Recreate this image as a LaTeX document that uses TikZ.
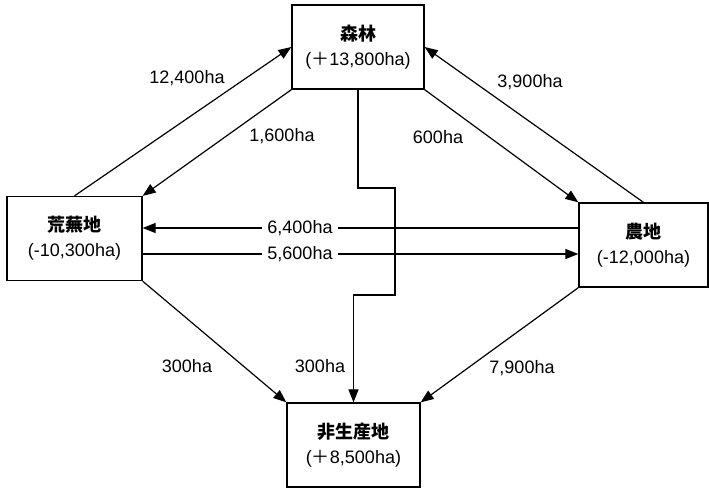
\documentclass[tikz,border=0pt]{standalone}
\usepackage{fontspec}
\setmainfont{Liberation Sans}
\newfontfamily\cjk{Noto Sans CJK JP}
\usetikzlibrary{arrows.meta}

\begin{document}
\begin{tikzpicture}[x=1pt,y=-1pt,
    font=\fontsize{18}{25}\selectfont,
    box/.style={draw, line width=1.3pt, minimum height=84pt, align=center, inner sep=0pt},
    flow/.style={line width=1.2pt, -{Triangle[length=13pt,width=10pt]}},
    qty/.style={inner sep=1pt},
    cut/.style={fill=white, inner sep=5pt}
]

\useasboundingbox (0,0) rectangle (709,488);

% Land-use boxes
\node[box, minimum width=132pt] (forest) at (358,47) {{\cjk\bfseries 森林}\\({\cjk ＋}13,800ha)};
\node[box, minimum width=135pt] (waste) at (74.5,238.5) {{\cjk\bfseries 荒蕪地}\\(-10,300ha)};
\node[box, minimum width=129pt] (farm) at (643.5,245) {{\cjk\bfseries 農地}\\(-12,000ha)};
\node[box, minimum width=133pt] (nonp) at (353.5,445) {{\cjk\bfseries 非生産地}\\({\cjk ＋}8,500ha)};

% Helper points
\coordinate (r1) at (0,228);
\coordinate (r2) at (0,254);
\coordinate (k1) at (395,188);
\coordinate (k2) at (395,295);

% Wasteland <-> forest
\draw[flow] (waste.north) -- (forest.west);
\draw[flow] (forest.south west) -- (waste.north east);
\node[qty] (q1) at (187,78) {12,400ha};
\node[qty] (q2) at (282,136) {1,600ha};

% Farmland <-> forest
\draw[flow] (farm.north) -- (forest.east);
\draw[flow] (forest.south east) -- (farm.north west);
\node[qty] (q3) at (530,82) {3,900ha};
\node[qty] (q4) at (438,137) {600ha};

% Forest -> non-productive (stepped line)
\draw[flow] (forest.south) |- (k1) -- (k2) -| (nonp.north);
\node[qty] (q5) at (320,366) {300ha};

% Farmland <-> wasteland
\draw[flow] (farm.west |- r1) -- (waste.east |- r1);
\draw[flow] (waste.east |- r2) -- (farm.west |- r2);
\node[cut] (q6) at (300,228) {6,400ha};
\node[cut] (q7) at (300,254) {5,600ha};

% Into non-productive land
\draw[flow] (waste.south east) -- (nonp.north west);
\draw[flow] (farm.south west) -- (nonp.north east);
\node[qty] (q8) at (187,366) {300ha};
\node[qty] (q9) at (522,368) {7,900ha};

\end{tikzpicture}
\end{document}
